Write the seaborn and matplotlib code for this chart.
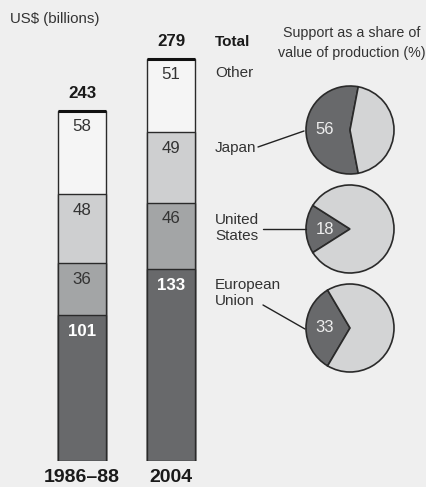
import numpy as np
import pandas as pd
import matplotlib
matplotlib.use("Agg")
import matplotlib.pyplot as plt
import seaborn as sns
from matplotlib.lines import Line2D

# DATA
periods = ["1986–88", "2004"]
eu = [101, 133]
us = [36, 46]
japan = [48, 49]
other = [58, 51]
totals = [243, 279]

pie_regions = ["Japan", "United\nStates", "European\nUnion"]
pie_shares = [56, 18, 33]

# LOOK
W, H = 427, 487
BG = "#efefef"
DARK = "#68696b"
MID = "#a3a5a6"
LIGHT = "#cecfd0"
PALE = "#f5f5f5"
PIE_LIGHT = "#d3d4d5"
EDGE = "#2a2a2a"
TXT = "#333333"

sns.set_theme(style="white")
plt.rcParams["font.family"] = ["Liberation Sans", "DejaVu Sans"]

fig = plt.figure(figsize=(W / 100, H / 100), dpi=100)
fig.patch.set_facecolor(BG)


def fx(px):
    return px / W


def fy(py):
    return 1 - py / H


# STACKED BARS
base_px = 460.7
scale = 1.44
ymax = 300
ax = fig.add_axes([fx(37.5), fy(base_px), fx(178), ymax * scale / H])

df = pd.DataFrame({"period": periods, "eu": eu, "us": us,
                   "japan": japan, "other": other})
segs = ["eu", "us", "japan", "other"]
colors = [DARK, MID, LIGHT, PALE]
cum = df[segs].cumsum(axis=1)

for seg, col in reversed(list(zip(segs, colors))):
    sns.barplot(x=df["period"], y=cum[seg], color=col, saturation=1,
                width=0.55, edgecolor=EDGE, linewidth=1, errorbar=None, ax=ax)

for i in range(len(periods)):
    for seg in segs:
        is_dark = seg == "eu"
        ax.annotate(str(df[seg][i]), (i, cum[seg][i]), xytext=(0, -16),
                    textcoords="offset pixels", ha="center", va="center",
                    fontsize=12.2, color="white" if is_dark else TXT,
                    fontweight="bold" if is_dark else "normal")
    ax.hlines(totals[i], i - 0.275, i + 0.275, color="#111111", lw=2.2)
    ax.annotate(str(totals[i]), (i, totals[i]), xytext=(0, 17),
                textcoords="offset pixels", ha="center", va="center",
                fontsize=12.2, fontweight="bold", color="#1a1a1a")
    ax.annotate(periods[i], (i, 0), xytext=(0, -17),
                textcoords="offset pixels", ha="center", va="center",
                fontsize=14, fontweight="bold", color="#1a1a1a")

ax.set_xlim(-0.5, 1.5)
ax.set_ylim(0, ymax)
ax.axis("off")

# TEXT COLUMN
fig.text(fx(10), fy(19), "US$ (billions)", ha="left", va="center",
         fontsize=10.8, color=TXT)
fig.text(fx(215), fy(42), "Total", ha="left", va="center",
         fontsize=11, fontweight="bold", color="#1a1a1a")
fig.text(fx(215), fy(73), "Other", ha="left", va="center",
         fontsize=11, color=TXT)
fig.text(fx(352), fy(43), "Support as a share of\nvalue of production (%)",
         ha="center", va="center", fontsize=10.3, color=TXT, linespacing=1.55)

label_y = [148, 228, 293]
for name, ly in zip(pie_regions, label_y):
    fig.text(fx(215), fy(ly), name, ha="left", va="center",
             fontsize=11, color=TXT, linespacing=1.25)

# leader lines
leaders = [((258, 147), (304, 131)),
           ((263, 229), (306, 229)),
           ((263, 305), (305, 329))]
for (x0, y0), (x1, y1) in leaders:
    fig.add_artist(Line2D([fx(x0), fx(x1)], [fy(y0), fy(y1)],
                          transform=fig.transFigure, color="#222222", lw=1))

# PIES
r = 44
pad = 1.03
centers_y = [130, 229, 328]
cx = 350
for share, cy in zip(pie_shares, centers_y):
    half = r * pad
    pax = fig.add_axes([fx(cx - half), fy(cy + half), 2 * half / W, 2 * half / H])
    span = share * 3.6
    pax.pie([share, 100 - share], colors=[DARK, PIE_LIGHT],
            startangle=180 - span / 2, counterclock=True,
            wedgeprops=dict(edgecolor=EDGE, linewidth=1.2))
    pax.set_xlim(-pad, pad)
    pax.set_ylim(-pad, pad)
    mid = np.deg2rad(180)
    pax.text(0.57 * np.cos(mid), 0.57 * np.sin(mid), str(share),
             ha="center", va="center", fontsize=12, color="#eeeeee")

fig.savefig("out.png", dpi=100, facecolor=BG)
